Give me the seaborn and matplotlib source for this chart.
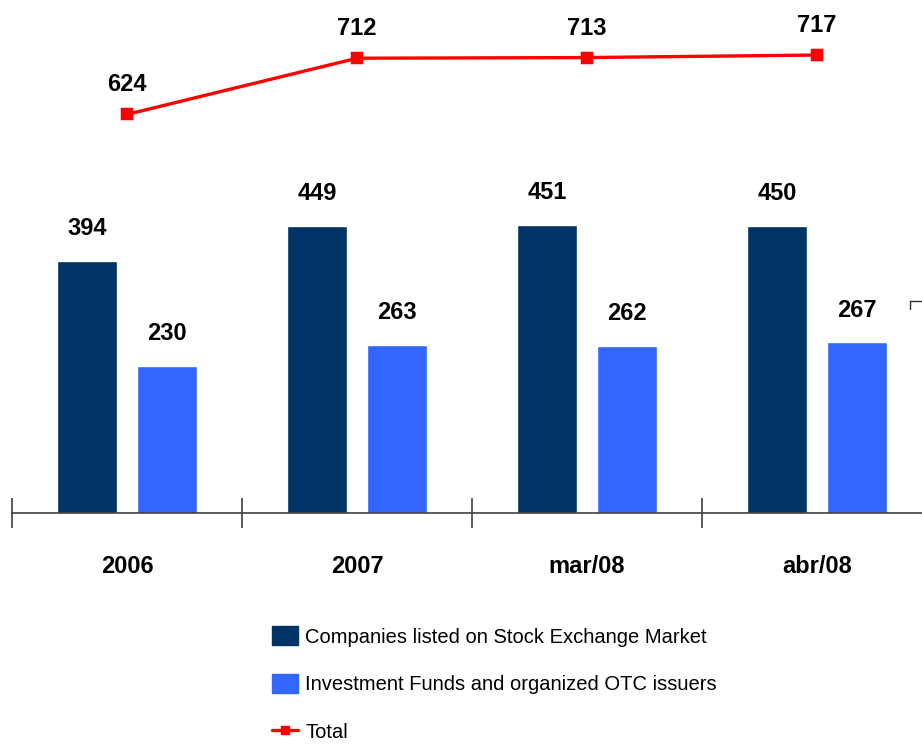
import pandas as pd
import seaborn as sns
import matplotlib.pyplot as plt
from matplotlib.patches import Patch
from matplotlib.lines import Line2D

# data
periods = ['2006', '2007', 'mar/08', 'abr/08']
listed_companies = [394, 449, 451, 450]
funds_otc = [230, 263, 262, 267]
totals = [624, 712, 713, 717]

label_listed = 'Companies listed on Stock Exchange Market'
label_funds = 'Investment Funds and organized OTC issuers'
label_total = 'Total'

dark_blue = '#003366'
light_blue = '#3366FF'
red = '#FF0000'

bars = pd.DataFrame({
    'period': periods * 2,
    'value': listed_companies + funds_otc,
    'series': [label_listed] * len(periods) + [label_funds] * len(periods),
})
line = pd.DataFrame({'period': periods, 'value': totals})

sns.set_style('white')
plt.rcParams['font.family'] = ['Liberation Sans Narrow', 'Liberation Sans', 'DejaVu Sans']
plt.rcParams['text.color'] = 'black'
plt.rcParams['xtick.color'] = 'black'

fig = plt.figure(figsize=(9.22, 7.44), dpi=100)
ax = fig.add_axes([12 / 922, 231 / 744, 920 / 922, 511 / 744])

sns.barplot(data=bars, x='period', y='value', hue='series',
            palette=[dark_blue, light_blue], width=0.696, gap=0.25,
            saturation=1, legend=False, ax=ax)
for container in ax.containers:
    ax.bar_label(container, padding=15, fontsize=17, fontweight='bold')

sns.pointplot(data=line, x='period', y='value', color=red, markers='s',
              markersize=7, linewidth=2.4, ax=ax)
for i, v in enumerate(totals):
    ax.annotate(str(v), (i, v), xytext=(0, 13), textcoords='offset points',
                ha='center', va='bottom', fontsize=17, fontweight='bold')

ax.set_xlim(-0.5, 3.5)
ax.set_ylim(0, 800)
ax.set_xlabel('')
ax.set_ylabel('')
ax.set_yticks([])
for side in ['left', 'top', 'right']:
    ax.spines[side].set_visible(False)
ax.spines['bottom'].set_color('#404040')
ax.spines['bottom'].set_linewidth(1.2)

ax.set_xticks(range(len(periods)))
ax.set_xticklabels(periods, fontsize=17, fontweight='bold')
ax.tick_params(axis='x', which='major', bottom=True, length=0, pad=30)
ax.set_xticks([-0.5, 0.5, 1.5, 2.5, 3.5], minor=True)
ax.tick_params(axis='x', which='minor', bottom=True, direction='inout',
               length=22, width=1.2, color='#404040')

handles = [
    Patch(facecolor=dark_blue, edgecolor=dark_blue),
    Patch(facecolor=light_blue, edgecolor=light_blue),
    Line2D([0], [0], color=red, marker='s', markersize=6, linewidth=2.4),
]
fig.legend(handles, [label_listed, label_funds, label_total],
           loc='upper left', bbox_to_anchor=(264 / 922, 1 - 618 / 744),
           frameon=False, fontsize=14.5, labelspacing=1.35, handlelength=1.3,
           handleheight=1.1, handletextpad=0.35, borderaxespad=0)

# small stray bracket at the right edge of the original slide
fig.add_artist(Line2D([910 / 922, 922 / 922], [1 - 301 / 744, 1 - 301 / 744],
                      color='#303030', linewidth=1))
fig.add_artist(Line2D([910 / 922, 910 / 922], [1 - 301 / 744, 1 - 309 / 744],
                      color='#303030', linewidth=1))

fig.savefig('out.png', dpi=100)
